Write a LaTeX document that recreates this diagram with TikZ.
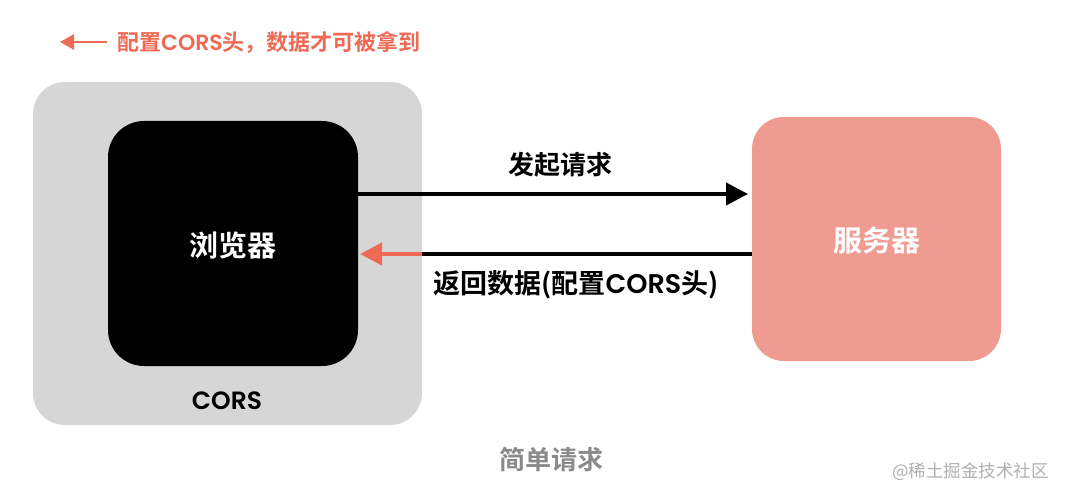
\documentclass[tikz,border=0pt]{standalone}
\usepackage{fontspec}
\setmainfont{Noto Sans CJK SC}[BoldFont={* Bold}]
\newfontfamily\cjk{Noto Sans CJK SC Bold}
\newfontfamily\lat{Poppins SemiBold}
\usetikzlibrary{arrows.meta}
\definecolor{boxgray}{HTML}{D6D6D6}
\definecolor{pinkbox}{HTML}{EF9B91}
\definecolor{redarrow}{HTML}{EE6A55}
\definecolor{capgray}{HTML}{8A8A8A}
\definecolor{wmgray}{HTML}{B0B0B0}
\tikzset{
  box/.style={rounded corners=#1, inner sep=0pt, outer sep=0pt},
  conn/.style={line width=4pt, -{Triangle[length=22pt,width=22pt]}},
  lbl/.style={font=\cjk\fontsize{26}{30}\selectfont, inner sep=0pt}
}
\begin{document}
\begin{tikzpicture}[x=1pt,y=-1pt]
\useasboundingbox[fill=white] (0,0) rectangle (1066,500);
\node[box=32, fill=boxgray, minimum width=389pt, minimum height=343pt, anchor=north west] (cors) at (33,82) {};
\node[box=36, fill=black, minimum width=250pt, minimum height=245pt, anchor=north west] (browser) at (108,121) {};
\node[box=32, fill=pinkbox, minimum width=249pt, minimum height=244pt, anchor=north west] (server) at (752,117) {};
\node[lbl, text=white, font=\cjk\fontsize{29}{34}\selectfont] (btxt) at (233,245) {浏览器};
\node[lbl, text=white, font=\cjk\fontsize{29}{34}\selectfont] (stxt) at (877,240) {服务器};
\node[lbl, font=\lat\fontsize{25}{30}\selectfont] (corstxt) at (227,401) {CORS};
\draw[conn] (browser.east |- 0,194) -- ([xshift=-4pt]server.west |- 0,194);
\node[lbl] (req) at (560,165) {发起请求};
\coordinate (mid) at (cors.east |- 0,254);
\draw[line width=4pt] (server.west |- 0,254) -- (mid);
\draw[conn, redarrow] (mid) -- ([xshift=2pt]browser.east |- 0,254);
\node[lbl, font=\cjk\fontsize{27}{30}\selectfont] (resp) at (576,285) {返回数据(配置{\lat CORS}头)};
\node[lbl, text=capgray] (cap) at (551,460) {简单请求};
\coordinate (legs) at (107,42);
\coordinate (lege) at (60,42);
\draw[redarrow, line width=2.6pt, -{Triangle[length=14pt,width=15pt]}] (legs) -- (lege);
\node[lbl, anchor=west, text=redarrow, font=\cjk\fontsize{22}{26}\selectfont] (leg) at (117,42) {配置{\lat CORS}头，数据才可被拿到};
\node[lbl, anchor=east, text=wmgray, font=\fontsize{17.5}{20}\selectfont] (wm) at (1049,472) {@稀土掘金技术社区};
\end{tikzpicture}
\end{document}
